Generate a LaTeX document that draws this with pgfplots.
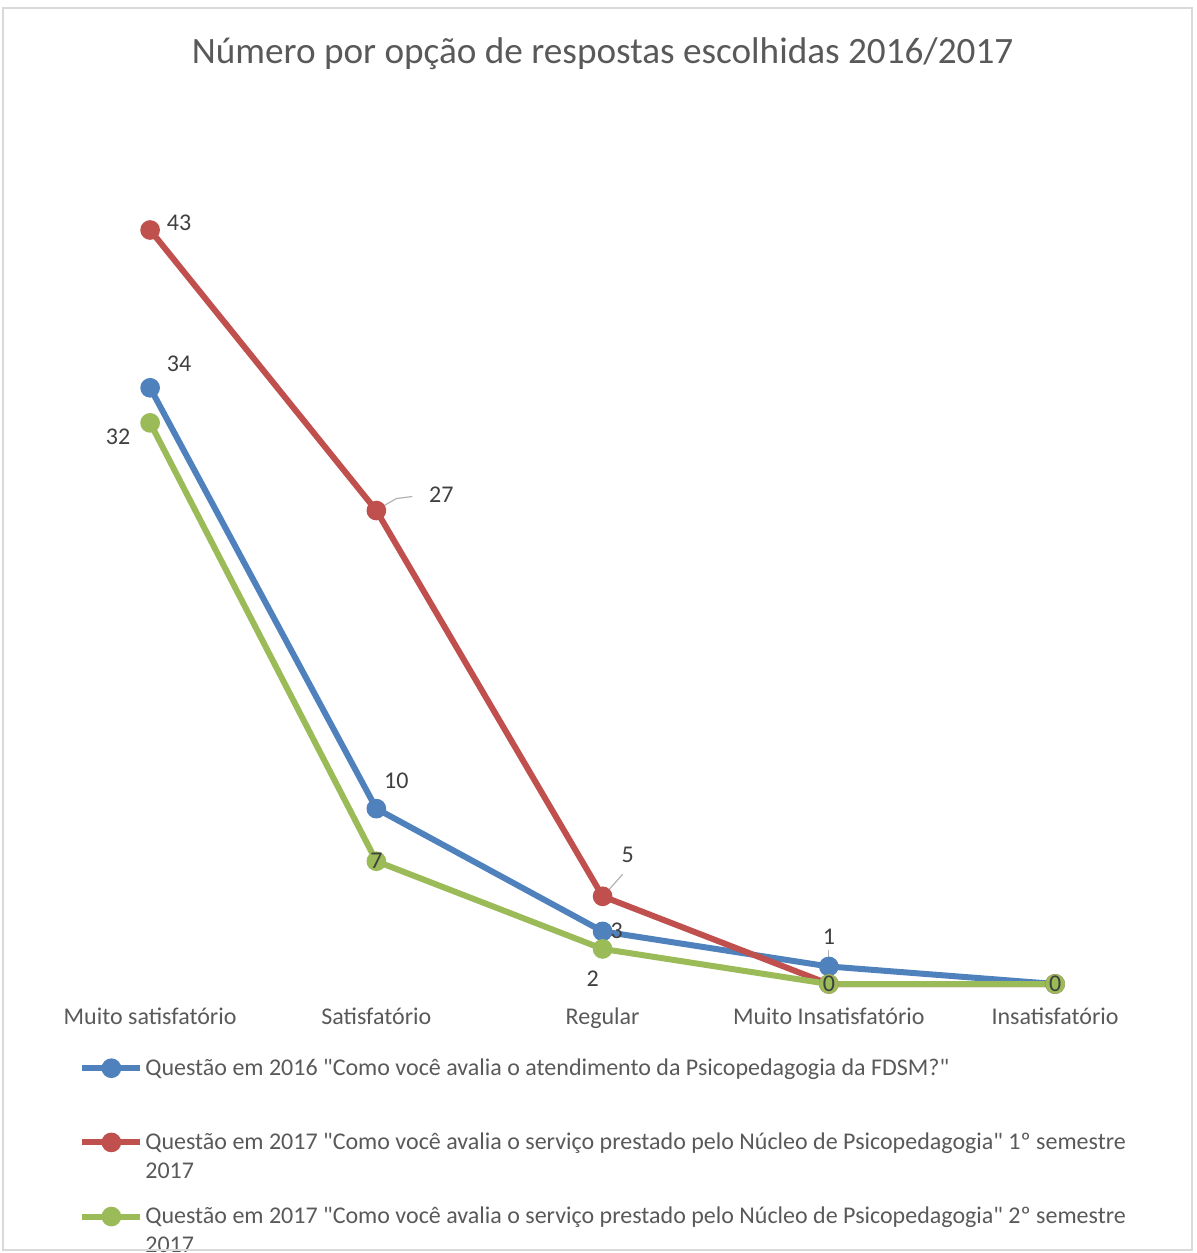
\documentclass[border=0pt]{standalone}
\usepackage{fontspec}
\setmainfont{Carlito}
\usepackage{pgfplots}
\pgfplotsset{compat=1.18}
\usepackage{pgfplotstable}

\definecolor{cblue}{HTML}{4F81BD}
\definecolor{cred}{HTML}{C0504D}
\definecolor{cgreen}{HTML}{9BBB59}
\definecolor{ctext}{HTML}{595959}
\definecolor{clabel}{HTML}{404040}
\definecolor{cframe}{HTML}{D9D9D9}

% x = category index, y = value, dx/dy = label offset (pt)
\pgfplotstableread{
x y dx dy
0 34 14.5 12
1 10 10 14
2 3 7 0.5
3 1 0 15
4 0 0 0
}\blueseries
\pgfplotstableread{
x y dx dy
0 43 14.5 3.5
1 27 32.5 8
2 5 12.5 20.5
3 0 0 0
4 0 0 0
}\redseries
\pgfplotstableread{
x y dx dy
0 32 -16 -7
1 7 0 0
2 2 -5 -15
3 0 0 0
4 0 0 0
}\greenseries

\begin{document}
\begin{tikzpicture}
\begin{axis}[
    at={(18.5pt,134.5pt)}, anchor=south west,
    scale only axis, width=565.6pt, height=377pt,
    xmin=-0.5, xmax=4.5, ymin=0, ymax=43,
    clip=false,
    axis line style={draw=none},
    major tick length=0pt,
    ytick=\empty,
    xtick={0,1,2,3,4},
    xticklabels={Muito satisfatório, Satisfatório, Regular, Muito Insatisfatório, Insatisfatório},
    xticklabel style={anchor=base, yshift=-20pt, text=ctext, font=\fontsize{12}{14.5}\selectfont},
    title={Número por opção de respostas escolhidas 2016/2017},
    title style={at={(0.5,1)}, anchor=base, yshift=77pt, text=ctext, font=\fontsize{18.6}{22}\selectfont},
    every axis plot/.append style={line width=3pt, mark=*, mark size=3.4pt},
    visualization depends on={\thisrow{dx}\as\dx},
    visualization depends on={\thisrow{dy}\as\dy},
    nodes near coords,
    point meta=explicit symbolic,
    every node near coord/.append style={anchor=center, xshift=\dx pt, yshift=\dy pt,
        text=clabel, font=\fontsize{12}{14.5}\selectfont},
    legend image code/.code={\draw[mark repeat=2, mark phase=2, #1] plot coordinates {(0pt,7.25pt) (14.5pt,7.25pt) (29pt,7.25pt)};},
    legend cell align=left,
    legend style={at={(axis description cs:0,0)}, anchor=north west, xshift=18pt, yshift=-34pt,
        draw=none, fill=none, row sep=10.75pt, column sep=0pt, text=ctext,
        font=\fontsize{12}{14.5}\selectfont,
        nodes={align=left, inner sep=1pt}},
]
\addplot[color=cblue, mark options={fill=cblue}] table[x=x, y=y, meta=y] {\blueseries};
\addlegendentry{Questão em 2016 \textquotedbl Como você avalia o atendimento da Psicopedagogia da FDSM?\textquotedbl\\\mbox{}}
\addplot[color=cred, mark options={fill=cred}] table[x=x, y=y, meta=y] {\redseries};
\addlegendentry{Questão em 2017 \textquotedbl Como você avalia o serviço prestado pelo Núcleo de Psicopedagogia\textquotedbl\ 1º semestre\\2017}
\addplot[color=cgreen, mark options={fill=cgreen}] table[x=x, y=y, meta=y] {\greenseries};
\addlegendentry{Questão em 2017 \textquotedbl Como você avalia o serviço prestado pelo Núcleo de Psicopedagogia\textquotedbl\ 2º semestre\\2017}
% leader lines of the data labels
\draw[gray!60, line width=0.6pt] (axis cs:1,27) ++(3pt,2pt) -- ++(7pt,4pt) -- ++(8pt,1pt);
\draw[gray!60, line width=0.6pt] (axis cs:2,5) ++(2pt,2pt) -- ++(8pt,9pt);
\draw[gray!60, line width=0.6pt] (axis cs:3,1) ++(0pt,3pt) -- ++(0pt,5pt);
\end{axis}
\draw[cframe, line width=1pt] (1.5pt,1.5pt) rectangle (596pt,622.5pt);
\pgfresetboundingbox
\useasboundingbox (0pt,0pt) rectangle (598pt,626.5pt);
\end{tikzpicture}
\end{document}
